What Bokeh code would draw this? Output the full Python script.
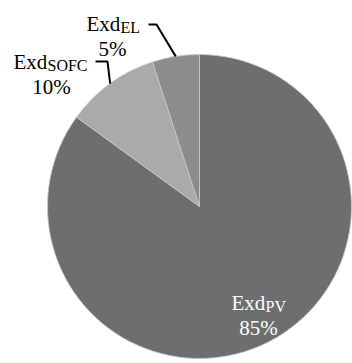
import numpy as np
from bokeh.plotting import figure
from bokeh.models import Range1d, ColumnDataSource
from bokeh.core.properties import value
from bokeh.embed import file_html
from bokeh.resources import INLINE

# data
names = ["PV", "SOFC", "EL"]
shares = [85, 10, 5]
colors = ["#6d6e70", "#a9aaac", "#8b8c8e"]

W, H = 352, 363
cx, cy, R = 199, H - 206, 152

p = figure(width=W, height=H, output_backend="svg", toolbar_location=None,
           x_range=Range1d(0, W), y_range=Range1d(0, H), min_border=0)
p.axis.visible = False
p.grid.visible = False
p.outline_line_color = None
p.background_fill_color = "white"

frac = np.array(shares) / sum(shares)
cum = np.concatenate([[0], np.cumsum(frac)])
start = np.pi / 2 - cum[:-1] * 2 * np.pi
end = np.pi / 2 - cum[1:] * 2 * np.pi
src = ColumnDataSource(dict(start=start, end=end, color=colors))
p.wedge(x=cx, y=cy, radius=R, start_angle="start", end_angle="end",
        direction="clock", fill_color="color", line_color="#c8c8c8",
        line_width=0.8, source=src)

mid = (start + end) / 2
font = value("Liberation Serif")
BIG, SUB = "21px", "16px"

# leader lines (SOFC, EL)
lab = {
    "SOFC": dict(ex=13, ey=61, sx=47, sy=65, px=51, py=86, lx0=95, ly=61, lx1=107),
    "EL": dict(ex=86, ey=23, sx=120, sy=27, px=112, py=48, lx0=148, ly=24, lx1=156),
}
for i, n in enumerate(names):
    if n == "PV":
        continue
    d = lab[n]
    tx = cx + R * np.cos(mid[i])
    ty = cy + R * np.sin(mid[i])
    p.line([d["lx0"], d["lx1"], tx], [H - d["ly"], H - d["ly"], ty],
           line_color="black", line_width=2)
    p.text([d["ex"]], [H - d["ey"]], text=["Exd"], text_font=font,
           text_font_size=BIG, text_color="black", text_baseline="alphabetic")
    p.text([d["sx"]], [H - d["sy"]], text=[n], text_font=font,
           text_font_size=SUB, text_color="black", text_baseline="alphabetic")
    p.text([d["px"]], [H - d["py"]], text=[f"{shares[i]}%"], text_font=font,
           text_font_size=BIG, text_color="black", text_baseline="alphabetic",
           text_align="center")

# PV label (white, inside)
p.text([231], [H - 302], text=["Exd"], text_font=font, text_font_size=BIG,
       text_color="white", text_baseline="alphabetic")
p.text([265], [H - 306], text=["PV"], text_font=font, text_font_size=SUB,
       text_color="white", text_baseline="alphabetic")
p.text([258], [H - 327], text=[f"{shares[0]}%"], text_font=font,
       text_font_size=BIG, text_color="white", text_baseline="alphabetic",
       text_align="center")

open("out.html", "w").write(file_html(p, INLINE))
